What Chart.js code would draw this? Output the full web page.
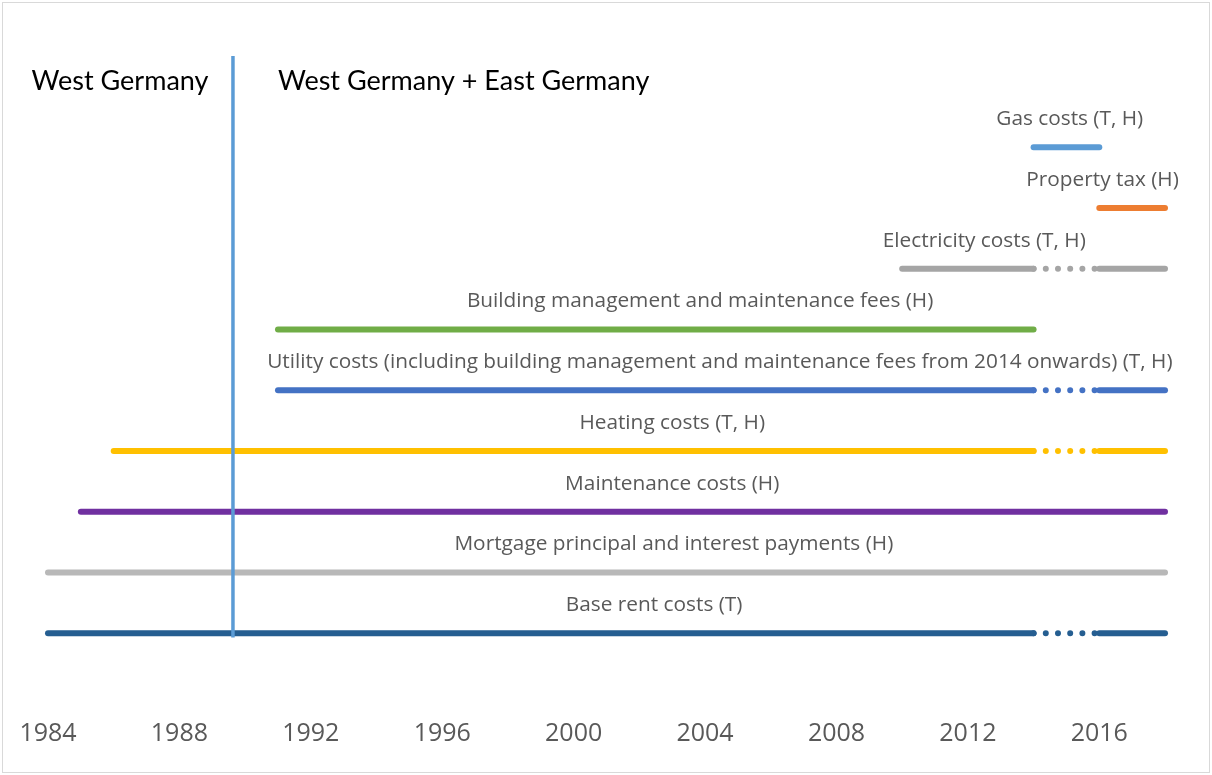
<!DOCTYPE html>
<html>
<head>
<meta charset="utf-8">
<title>Cost components timeline</title>
<script src="https://cdn.jsdelivr.net/npm/chart.js@4/dist/chart.umd.min.js"></script>
<style>
  html, body { margin: 0; padding: 0; background: #fff; }
  #wrap { position: relative; width: 1212px; height: 775px; }
</style>
</head>
<body>
<div id="wrap"><canvas id="chart" width="1212" height="775"></canvas></div>
<script>
// Rows from top to bottom
const seriesLabels = [
    'Gas costs (T, H)',
    'Property tax (H)',
    'Electricity costs (T, H)',
    'Building management and maintenance fees (H)',
    'Utility costs (including building management and maintenance fees from 2014 onwards) (T, H)',
    'Heating costs (T, H)',
    'Maintenance costs (H)',
    'Mortgage principal and interest payments (H)',
    'Base rent costs (T)'
];
const seriesRows   = [9, 8, 7, 6, 5, 4, 3, 2, 1];
const startYears   = [2014, 2016, 2010, 1991, 1991, 1986, 1985, 1984, 1984];
const endYears     = [2016, 2018, 2018, 2014, 2018, 2018, 2018, 2018, 2018];
// years where the series is only shown dotted (break in the data)
const breakStarts  = [null, null, 2014, null, 2014, 2014, null, null, 2014];
const breakEnds    = [null, null, 2016, null, 2016, 2016, null, null, 2016];
// where the label text is centred
const labelYears   = [2015.1, 2016.1, 2012.5, 2003.85, 2004.45, 2003.0, 2003.0, 2003.05, 2002.45];

const tickYears = [1984, 1988, 1992, 1996, 2000, 2004, 2008, 2012, 2016];

const reunificationYear = 1989.63;
const regionTitles = ['West Germany', 'West Germany + East Germany'];
const regionTitleYears = [1983.5, 1991.0];

const colors = ['#5B9BD5', '#ED7D31', '#A5A5A5', '#70AD47', '#4472C4', '#FFC000', '#7030A0', '#B8B8B8', '#255E91'];
const textGray = '#595959';

// build line datasets: solid parts plus dotted break parts
function makeSegment(x0, x1, row, color, dotted) {
    return {
        data: [{ x: x0, y: row }, { x: x1, y: row }],
        borderColor: color,
        borderWidth: 6,
        borderCapStyle: 'round',
        borderDash: dotted ? [0, 12.2] : [],
        pointRadius: 0,
        clip: false,
        order: 1
    };
}

const datasets = [];
seriesLabels.forEach((name, i) => {
    const row = seriesRows[i];
    if (breakStarts[i] === null) {
        datasets.push(makeSegment(startYears[i], endYears[i], row, colors[i], false));
    } else {
        datasets.push(makeSegment(startYears[i], breakStarts[i], row, colors[i], false));
        datasets.push(makeSegment(breakStarts[i], breakEnds[i], row, colors[i], true));
        datasets.push(makeSegment(breakEnds[i], endYears[i], row, colors[i], false));
    }
});

// divider between West Germany only and reunified Germany
datasets.push({
    data: [{ x: reunificationYear, y: 0.93 }, { x: reunificationYear, y: 10.5 }],
    borderColor: '#5B9BD5',
    borderWidth: 3.5,
    pointRadius: 0,
    clip: false,
    order: 0
});

const labelPlugin = {
    id: 'labels',
    beforeDraw(chart) {
        const ctx = chart.ctx;
        ctx.save();
        ctx.strokeStyle = '#D9D9D9';
        ctx.lineWidth = 1;
        ctx.strokeRect(2.5, 2.5, 1207, 770);
        ctx.restore();
    },
    afterDraw(chart) {
        const ctx = chart.ctx;
        const xs = chart.scales.x;
        const ys = chart.scales.y;
        ctx.save();
        ctx.fillStyle = textGray;
        ctx.font = '20.8px "Open Sans"';
        ctx.textAlign = 'center';
        ctx.textBaseline = 'middle';
        seriesLabels.forEach((name, i) => {
            ctx.fillText(name, xs.getPixelForValue(labelYears[i]), ys.getPixelForValue(seriesRows[i]) - 28);
        });
        ctx.fillStyle = '#000';
        ctx.font = '27px Lato';
        ctx.textAlign = 'left';
        regionTitles.forEach((t, i) => {
            ctx.fillText(t, xs.getPixelForValue(regionTitleYears[i]), 81);
        });
        ctx.restore();
    }
};

new Chart(document.getElementById('chart'), {
    type: 'line',
    data: { datasets },
    options: {
        responsive: false,
        animation: false,
        devicePixelRatio: 1,
        layout: { padding: { left: 48, right: 47, top: 56, bottom: 0 } },
        plugins: { legend: { display: false }, tooltip: { enabled: false } },
        scales: {
            x: {
                type: 'linear',
                min: 1984,
                max: 2018,
                grid: { display: false, drawTicks: false },
                border: { display: false },
                afterBuildTicks: scale => { scale.ticks = tickYears.map(v => ({ value: v })); },
                afterFit: scale => {
                    scale.height = 81;
                    scale.paddingLeft = 0;
                    scale.paddingRight = 0;
                },
                ticks: {
                    padding: 25,
                    color: textGray,
                    font: { family: '"Open Sans"', size: 25 },
                    maxRotation: 0,
                    callback: v => String(v)
                }
            },
            y: {
                type: 'linear',
                display: false,
                min: 0,
                max: 10.5
            }
        }
    },
    plugins: [labelPlugin]
});
</script>
</body>
</html>
